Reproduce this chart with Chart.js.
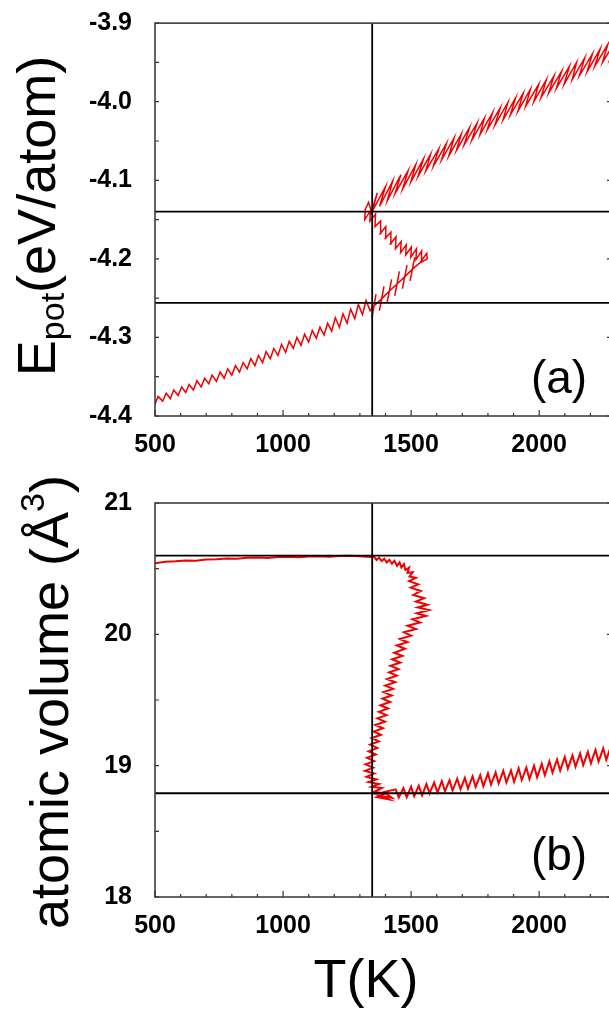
<!DOCTYPE html>
<html><head><meta charset="utf-8">
<script src="https://cdn.jsdelivr.net/npm/chart.js@4.4.1/dist/chart.umd.min.js"></script>
<style>
html,body{margin:0;padding:0;background:#fff;overflow:hidden;width:609px;height:1012px}
#wrap{position:relative;width:640px;height:1012px;background:#fff}
canvas{display:block}
</style></head><body>
<div id="wrap">
<canvas id="cA" width="640" height="460"></canvas>
<canvas id="cB" width="640" height="552"></canvas>
</div>
<script>
// ---------- data ----------
const xTickValues = [500, 1000, 1500, 2000];
const xMinorTicks = [600,700,800,900,1100,1200,1300,1400,1600,1700,1800,1900,2100,2200];
const energyTicks = [-4.4, -4.3, -4.2, -4.1, -4.0, -3.9];
const energyMinorTicks = [-4.35, -4.25, -4.15, -4.05, -3.95];
const volumeTicks = [18, 19, 20, 21];
const volumeMinorTicks = [18.5, 19.5, 20.5];
const meltingT = 1348;
const energyRefLines = [-4.14, -4.256];
const volumeRefLines = [20.6, 18.79];

// panel (a): temperature (K) and potential energy (eV/atom), in drawing order
const energyTempK = [
 500,512,530,544,560,573,590,604,620,633,650,664,680,694,710,723,740,754,770,784,
 800,814,830,844,860,874,890,904,920,934,950,964,980,994,1010,1024,1040,1054,1070,1084,
 1100,1114,1130,1144,1160,1174,1190,1204,1220,1234,1250,1264,1280,1294,1310,1324,1340,
 1355,1363,1347,1355,1385,1394,1376,1385,1415,1424,1406,1415,1445,1454,1436,1445,
 1475,1484,1466,1475,1505,1514,1496,1505,1530,1563,
 1561,1539,1541,1519,1521,1499,1501,1479,1481,1459,1461,1439,1441,1419,1421,1399,1401,1379,1381,1359,
 1361,1339,1341,1319,1321,1334,1345,
 1368,1349,1400,1377,1428,1407,1460,1437,1488,1467,1518,1499,1548,1527,1576,1557,1608,1587,1638,1619,
 1668,1647,1696,1677,1728,1707,1758,1737,1786,1769,1818,1797,1848,1827,1878,1859,1908,1887,1938,1917,
 1966,1947,1998,1979,2028,2007,2058,2037,2088,2067,2118,2097,2146,2129,2178,2157,2208,2187,2238,2217,
 2268,2247,2298,2277,2328,2307
];
const energyEV = [
 -4.385,-4.375,-4.381,-4.371,-4.378,-4.367,-4.374,-4.363,-4.370,-4.360,-4.367,-4.355,-4.363,-4.352,-4.359,-4.348,-4.356,-4.344,-4.352,-4.340,
 -4.348,-4.336,-4.344,-4.332,-4.340,-4.327,-4.336,-4.323,-4.332,-4.318,-4.327,-4.314,-4.323,-4.309,-4.319,-4.305,-4.314,-4.300,-4.310,-4.296,
 -4.306,-4.291,-4.301,-4.287,-4.297,-4.282,-4.292,-4.275,-4.287,-4.270,-4.282,-4.264,-4.276,-4.258,-4.271,-4.253,-4.266,
 -4.260,-4.245,-4.275,-4.260,-4.251,-4.235,-4.266,-4.251,-4.241,-4.226,-4.256,-4.241,-4.232,-4.216,-4.247,-4.232,
 -4.223,-4.208,-4.238,-4.223,-4.213,-4.198,-4.228,-4.213,-4.206,-4.200,
 -4.193,-4.203,-4.190,-4.201,-4.187,-4.198,-4.185,-4.195,-4.182,-4.192,-4.178,-4.187,-4.172,-4.181,-4.166,-4.174,-4.159,-4.168,-4.152,-4.159,
 -4.143,-4.152,-4.139,-4.150,-4.137,-4.128,-4.140,
 -4.116,-4.139,-4.108,-4.133,-4.101,-4.126,-4.093,-4.117,-4.088,-4.111,-4.080,-4.102,-4.073,-4.095,-4.067,-4.088,-4.060,-4.082,-4.053,-4.074,
 -4.046,-4.069,-4.041,-4.062,-4.033,-4.055,-4.027,-4.049,-4.021,-4.042,-4.014,-4.036,-4.008,-4.030,-4.001,-4.023,-3.995,-4.017,-3.989,-4.012,
 -3.984,-4.006,-3.978,-4.000,-3.972,-3.995,-3.967,-3.989,-3.961,-3.983,-3.955,-3.978,-3.950,-3.972,-3.944,-3.967,-3.939,-3.962,-3.933,-3.955,
 -3.927,-3.950,-3.923,-3.945,-3.916,-3.939
];

// panel (b): temperature (K) and atomic volume (Å^3), in drawing order
const volumeTempK = [
 500,540,580,620,660,700,740,780,820,860,900,940,980,1020,1060,1100,1140,1180,1220,1260,1300,1340,
 1355,1365,1375,1385,1395,1405,1415,1425,1435,1445,1455,1462,1472,1478,1492,1486,1506,1494,
 1518,1492,1528,1499,1538,1509,1551,1519,1564,1526,1570,1522,1558,1505,1535,1486,1519,1472,1500,1456,
 1486,1444,1476,1434,1466,1426,1458,1419,1451,1414,1444,1406,1438,1399,1430,1392,1424,1388,1418,1380,
 1410,1374,1404,1368,1398,1360,1390,1354,1382,1346,1374,1340,1368,1334,1362,1328,1356,1322,1352,1320,
 1356,1326,1364,1334,1374,1346,1386,1356,1400,1366,1410,1380,1425,1395,
 1440,1452,1470,1483,1500,1512,1530,1543,1560,1572,1590,1603,1620,1632,1650,1662,1680,1693,1710,1722,
 1740,1752,1770,1782,1800,1812,1830,1842,1860,1872,1890,1902,1920,1932,1950,1962,1980,1992,2010,2022,
 2040,2052,2070,2082,2100,2112,2130,2142,2160,2172,2190,2202,2220,2232,2250,2262,2280,2292,2310
];
const volumeA3 = [
 20.541,20.552,20.556,20.563,20.561,20.570,20.572,20.578,20.576,20.583,20.585,20.582,20.588,20.590,20.587,20.592,20.594,20.591,20.596,20.598,20.594,20.588,
 20.590,20.566,20.584,20.558,20.576,20.548,20.568,20.538,20.560,20.522,20.548,20.510,20.535,20.490,20.508,20.468,20.472,20.440,
 20.430,20.405,20.380,20.355,20.330,20.300,20.275,20.250,20.225,20.205,20.185,20.160,20.140,20.115,20.090,20.065,20.040,20.015,19.990,19.965,
 19.940,19.915,19.890,19.860,19.835,19.810,19.785,19.760,19.735,19.710,19.685,19.660,19.635,19.610,19.585,19.560,19.535,19.510,19.485,19.460,
 19.435,19.410,19.385,19.360,19.335,19.310,19.285,19.260,19.235,19.210,19.185,19.160,19.135,19.110,19.085,19.060,19.035,19.010,18.985,18.960,
 18.940,18.915,18.895,18.875,18.860,18.840,18.830,18.800,18.790,18.760,18.745,18.770,18.755,18.800,
 18.820,18.757,18.829,18.759,18.840,18.768,18.847,18.774,18.861,18.789,18.871,18.795,18.883,18.805,18.889,18.811,18.901,18.821,18.907,18.826,
 18.919,18.838,18.928,18.844,18.941,18.856,18.949,18.864,18.961,18.872,18.964,18.877,18.980,18.891,18.986,18.898,19.000,18.911,19.014,18.928,
 19.033,18.947,19.047,18.962,19.066,18.977,19.078,18.993,19.093,19.004,19.105,19.018,19.120,19.031,19.132,19.045,19.148,19.058,19.156
];

// ---------- drawing ----------
const FONT = "'Liberation Sans', Arial, sans-serif";
const RED = '#f00000';

const decor = {
  id: 'decor',
  afterDatasetsDraw(chart, args, o) {
    const {ctx, chartArea: a, scales: {x, y}} = chart;
    ctx.save();
    ctx.strokeStyle = '#333';
    ctx.lineWidth = 1.5;
    ctx.strokeRect(a.left, a.top, a.right - a.left, a.bottom - a.top);
    ctx.lineWidth = 1.2;
    ctx.beginPath();
    xTickValues.forEach(v => { const p = x.getPixelForValue(v); ctx.moveTo(p, a.bottom); ctx.lineTo(p, a.bottom - 6); });
    xMinorTicks.forEach(v => { const p = x.getPixelForValue(v); ctx.moveTo(p, a.bottom); ctx.lineTo(p, a.bottom - 3); });
    o.yMajor.forEach(v => { const p = y.getPixelForValue(v); ctx.moveTo(a.left, p); ctx.lineTo(a.left + 4, p); ctx.moveTo(a.right, p); ctx.lineTo(a.right - 9, p); });
    o.yMinor.forEach(v => { const p = y.getPixelForValue(v); ctx.moveTo(a.left, p); ctx.lineTo(a.left + 4, p); ctx.moveTo(a.right, p); ctx.lineTo(a.right - 5, p); });
    ctx.stroke();
    ctx.fillStyle = '#000';
    ctx.font = '46px ' + FONT;
    ctx.textAlign = 'center';
    ctx.textBaseline = 'middle';
    ctx.fillText(o.panelLabel, o.labelX, o.labelY);
    ctx.save();
    ctx.translate(o.titleX, o.titleY);
    ctx.rotate(-Math.PI / 2);
    ctx.textAlign = 'left';
    ctx.textBaseline = 'alphabetic';
    let total = 0;
    o.titleParts.forEach(pt => { ctx.font = pt[1] + 'px ' + FONT; total += ctx.measureText(pt[0]).width; });
    let cx = -total / 2;
    o.titleParts.forEach(pt => { ctx.font = pt[1] + 'px ' + FONT; ctx.fillText(pt[0], cx, pt[2]); cx += ctx.measureText(pt[0]).width; });
    ctx.restore();
    if (o.xTitle) {
      ctx.font = '54px ' + FONT;
      ctx.textAlign = 'center';
      ctx.textBaseline = 'alphabetic';
      ctx.fillText(o.xTitle, o.xTitleX, o.xTitleY);
    }
    ctx.restore();
  }
};

function pairs(xs, ys) { return xs.map((v, i) => ({x: v, y: ys[i]})); }

function makeChart(id, cfg) {
  const datasets = [
    { data: pairs(cfg.tx, cfg.vy), borderColor: RED, borderWidth: cfg.lineW, showLine: true, pointRadius: 0, tension: 0, order: 2 },
    { data: [{x: meltingT, y: cfg.yMin}, {x: meltingT, y: cfg.yMax}], borderColor: '#000', borderWidth: 1.8, showLine: true, pointRadius: 0, order: 1 }
  ];
  cfg.refs.forEach(r => datasets.push({ data: [{x: 500, y: r}, {x: 2300, y: r}], borderColor: '#000', borderWidth: 1.8, showLine: true, pointRadius: 0, order: 1 }));
  return new Chart(document.getElementById(id), {
    type: 'scatter',
    data: { datasets },
    plugins: [decor],
    options: {
      responsive: false, animation: false, devicePixelRatio: 1,
      layout: { padding: { top: cfg.padTop, right: 24, left: 0, bottom: 0 } },
      plugins: { legend: { display: false }, tooltip: { enabled: false }, decor: cfg.decor },
      scales: {
        x: {
          type: 'linear', min: 500, max: 2300,
          afterBuildTicks: s => { s.ticks = xTickValues.map(v => ({value: v})); },
          afterFit: s => { s.height = cfg.xAxisH; },
          grid: { display: false, drawTicks: false }, border: { display: false },
          ticks: { padding: 14, color: '#000', autoSkip: false, maxRotation: 0, font: { family: FONT, size: 25, weight: 'bold' }, callback: v => String(v) }
        },
        y: {
          type: 'linear', min: cfg.yMin, max: cfg.yMax,
          afterBuildTicks: s => { s.ticks = cfg.yTicks.map(v => ({value: v})); },
          afterFit: s => { s.width = 155; },
          grid: { display: false, drawTicks: false }, border: { display: false },
          ticks: { padding: 23, color: '#000', autoSkip: false, font: { family: FONT, size: 25, weight: 'bold', lineHeight: 0.01 }, callback: cfg.fmt }
        }
      }
    }
  });
}

makeChart('cA', {
  tx: energyTempK, vy: energyEV, yMin: -4.4, yMax: -3.9, yTicks: energyTicks, refs: energyRefLines,
  padTop: 23, xAxisH: 44, lineW: 1.5, fmt: v => v.toFixed(1),
  decor: { yMajor: energyTicks, yMinor: energyMinorTicks, panelLabel: '(a)', labelX: 559, labelY: 380,
           titleX: 55, titleY: 216, titleParts: [['E', 54, 0], ['pot', 34, 9], ['(eV/atom)', 54, 0]] }
});
makeChart('cB', {
  tx: volumeTempK, vy: volumeA3, yMin: 18, yMax: 21, yTicks: volumeTicks, refs: volumeRefLines,
  padTop: 43, xAxisH: 115, lineW: 2, fmt: v => String(v),
  decor: { yMajor: volumeTicks, yMinor: volumeMinorTicks, panelLabel: '(b)', labelX: 559, labelY: 397,
           titleX: 68, titleY: 242, titleParts: [['atomic volume (Å', 54, 0], ['3', 34, -24], [')', 54, 0]],
           xTitle: 'T(K)', xTitleX: 366, xTitleY: 537 }
});
</script>
</body></html>
